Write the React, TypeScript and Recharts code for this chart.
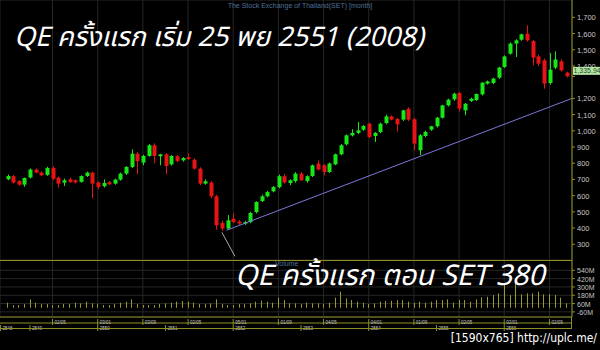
import React from 'react';
import { ComposedChart, Bar, XAxis, YAxis, CartesianGrid, ReferenceLine } from 'recharts';

// SET monthly, Sep 2005 .. Dec 2013
const opens = [
  701, 720, 690, 668, 712, 761, 742, 728, 771, 711,
  680, 701, 695, 685, 721, 742, 681, 658, 683, 674,
  699, 736, 777, 859, 804, 845, 911, 843, 855, 793,
  843, 818, 837, 822, 767, 674, 681, 596, 431, 397,
  458, 440, 431, 437, 499, 567, 596, 627, 653, 720,
  678, 690, 736, 690, 721, 798, 787, 746, 793, 855,
  917, 972, 987, 1007, 1044, 968, 993, 1048, 1089, 1073,
  1069, 1136, 1071, 880, 968, 1007, 1028, 1081, 1157, 1194,
  1233, 1126, 1184, 1190, 1225, 1291, 1295, 1328, 1394, 1476,
  1538, 1562, 1599, 1554, 1459, 1435, 1295, 1390, 1429, 1359,
];
const highs = [
  730, 728, 695, 712, 768, 768, 750, 778, 780, 718,
  705, 710, 700, 725, 748, 748, 688, 700, 690, 705,
  742, 782, 885, 870, 852, 918, 922, 858, 862, 850,
  852, 838, 860, 830, 775, 700, 690, 605, 445, 480,
  490, 450, 445, 500, 565, 605, 630, 660, 730, 735,
  700, 745, 745, 725, 792, 818, 795, 805, 860, 918,
  978, 1010, 1054, 1035, 1050, 992, 1050, 1100, 1095, 1080,
  1130, 1145, 1080, 980, 1000, 1030, 1085, 1160, 1198, 1235,
  1240, 1172, 1205, 1230, 1300, 1310, 1328, 1395, 1465, 1545,
  1565, 1600, 1651, 1560, 1470, 1445, 1480, 1490, 1440, 1365,
];
const lows = [
  695, 675, 660, 655, 705, 738, 720, 722, 695, 650,
  660, 680, 675, 680, 715, 584, 640, 650, 665, 668,
  692, 728, 770, 732, 787, 840, 800, 787, 732, 785,
  805, 810, 820, 760, 665, 668, 585, 390, 382, 390,
  430, 420, 420, 430, 490, 560, 590, 620, 645, 675,
  665, 680, 690, 680, 715, 755, 726, 740, 788, 850,
  910, 965, 980, 1000, 955, 931, 985, 1040, 1065, 995,
  1060, 1060, 880, 850, 960, 1000, 1020, 1075, 1150, 1185,
  1120, 1096, 1178, 1185, 1218, 1285, 1288, 1320, 1388, 1470,
  1455, 1555, 1550, 1405, 1400, 1260, 1285, 1380, 1365, 1330,
];
const closes = [
  721, 681, 668, 709, 761, 742, 726, 771, 705, 674,
  695, 683, 682, 721, 742, 674, 654, 678, 670, 699,
  736, 777, 859, 812, 845, 911, 845, 855, 783, 845,
  814, 832, 826, 767, 674, 689, 596, 417, 397, 448,
  437, 428, 437, 493, 561, 596, 623, 653, 720, 681,
  695, 736, 695, 720, 787, 761, 746, 798, 855, 911,
  972, 987, 1003, 1030, 962, 987, 1044, 1089, 1069, 1040,
  1126, 1069, 921, 972, 993, 1028, 1081, 1157, 1192, 1229,
  1137, 1167, 1198, 1227, 1297, 1305, 1322, 1390, 1459, 1538,
  1558, 1595, 1558, 1451, 1414, 1291, 1377, 1440, 1373, 1335.94,
];
// volume, millions
const volumes = [
  72, 39, 39, 53, 121, 72, 53, 53, 39, 39,
  53, 53, 72, 63, 87, 63, 53, 39, 39, 53,
  72, 87, 121, 53, 39, 39, 39, 53, 63, 72,
  87, 97, 87, 72, 53, 53, 63, 121, 53, 39,
  39, 53, 53, 63, 87, 101, 87, 72, 145, 111,
  63, 63, 53, 72, 63, 63, 53, 72, 145, 231,
  135, 111, 87, 72, 53, 63, 87, 97, 101, 111,
  111, 87, 72, 87, 72, 87, 111, 111, 121, 72,
  111, 111, 87, 121, 150, 159, 183, 207, 352, 183,
  376, 193, 207, 207, 231, 193, 193, 183, 145, 63,
];

const dateLabels = ['02/05', '03/01', '03/09', '02/05', '05/01', '01/09', '04/05', '04/01', '01/09', '02/05', '02/01', '02/09'];
const yearLabels = ['2548', '2549', '2550', '2551', '2552', '2553', '2554', '2555', '2556'];
const priceTicks = [300, 400, 500, 600, 700, 800, 900, 1000, 1100, 1200, 1400, 1500, 1600, 1700];
const gridTicks = [300, 400, 500, 600, 700, 800, 900, 1000, 1100, 1200, 1300, 1400, 1500, 1600, 1700];
const volumeTicks = [-60, 60, 180, 300, 420, 540];
const lastPrice = 1335.94;

const data = opens.map((o, i) => ({
  i,
  open: o,
  high: highs[i],
  low: lows[i],
  close: closes[i],
  range: [lows[i], highs[i]],
  volume: volumes[i],
}));

// tick positions (month index): every 8 months, years at January
const dateTicks = dateLabels.map((_, k) => 8 + k * 8);
const yearTicks = yearLabels.map((_, k) => (k === 0 ? -1.2 : 4 + (k - 1) * 12));

const X_DOMAIN: [number, number] = [-1.3, 100];
const OLIVE = '#8f8f26';
const GRID = '#262626';
const LABEL = '#c4c4c4';
const FONT = '"Liberation Sans", Arial, sans-serif';
const THAI = '"Noto Sans Thai", "Loma", "Garuda", "Noto Sans", "DejaVu Sans", sans-serif';

const fmt = (v: number) =>
  v.toLocaleString('en-US', { minimumFractionDigits: v % 1 ? 2 : 0, maximumFractionDigits: 2 });

function Candle(props: any) {
  const { x, y, width, height, payload } = props;
  const { open, close, high, low } = payload;
  const top = Math.min(y, y + height);
  const bottom = Math.max(y, y + height);
  const span = high - low || 1;
  const toPx = (v: number) => bottom - ((v - low) / span) * (bottom - top);
  const color = close >= open ? '#19e619' : '#e61414';
  const cx = Math.round(x + width / 2) + 0.5;
  const bTop = toPx(Math.max(open, close));
  const bBot = toPx(Math.min(open, close));
  return (
    <g>
      <line x1={cx} x2={cx} y1={top} y2={bottom} stroke={color} strokeWidth={1} />
      <rect x={cx - 2} y={bTop} width={4} height={Math.max(1.5, bBot - bTop)} fill={color} />
    </g>
  );
}

function VolBar(props: any) {
  const { x, y, width, height } = props;
  const top = Math.min(y, y + height);
  const h = Math.abs(height);
  return <rect x={Math.round(x + width / 2)} y={top} width={1} height={h} fill="#9a9a2e" />;
}

function PriceTick({ x, y, payload }: any) {
  const v = payload.value;
  if (v === lastPrice) {
    return (
      <g>
        <rect x={x - 4} y={y - 9.5} width={29} height={8} fill="#b4e6a6" />
        <text x={x - 3.5} y={y - 3} fill="#2a4a2a" fontSize={7} fontFamily={FONT}>
          {fmt(v)}
        </text>
      </g>
    );
  }
  return (
    <text x={x} y={y + 3} fill={LABEL} fontSize={7.5} fontFamily={FONT}>
      {fmt(v)}
    </text>
  );
}

function VolTick({ x, y, payload }: any) {
  return (
    <text x={x} y={y + 3} fill={LABEL} fontSize={7} fontFamily={FONT}>
      {payload.value}M
    </text>
  );
}

function RowTick(labels: string[], ticks: number[]) {
  return ({ x, y, payload }: any) => {
    const k = ticks.indexOf(payload.value);
    return (
      <g>
        <line x1={x} x2={x} y1={y} y2={y + 6} stroke={OLIVE} strokeWidth={1} />
        <text x={x + 2} y={y + 4.8} fill={LABEL} fontSize={4.5} fontFamily={FONT}>
          {labels[k]}
        </text>
      </g>
    );
  };
}

export default function App() {
  return (
    <div style={{ position: 'absolute', left: 0, top: 0, width: 600, height: 350, background: '#000', overflow: 'hidden' }}>
      <div style={{ position: 'absolute', left: 0, top: 0 }}>
        <ComposedChart width={600} height={260} data={data} margin={{ top: 0, right: 0, bottom: 0, left: 0 }}>
          <XAxis dataKey="i" type="number" domain={X_DOMAIN} ticks={dateTicks} hide />
          <YAxis yAxisId="grid" type="number" domain={[203, 1807]} ticks={gridTicks} hide />
          <YAxis
            yAxisId="p"
            orientation="right"
            type="number"
            domain={[203, 1807]}
            ticks={[...priceTicks, lastPrice]}
            width={28}
            tick={<PriceTick />}
            tickSize={3}
            tickLine={{ stroke: OLIVE }}
            axisLine={{ stroke: OLIVE }}
            interval={0}
          />
          <CartesianGrid yAxisId="grid" stroke={GRID} strokeWidth={1} />
          <ReferenceLine
            yAxisId="p"
            segment={[{ x: 38.8, y: 386 }, { x: 100, y: 1200 }]}
            stroke="#7a78d6"
            strokeWidth={1}
            ifOverflow="visible"
          />
          <ReferenceLine
            yAxisId="p"
            segment={[{ x: 38.0, y: 374 }, { x: 40.3, y: 226 }]}
            stroke="#a8a8a8"
            strokeWidth={1}
            ifOverflow="visible"
          />
          <Bar yAxisId="p" dataKey="range" barSize={4} shape={(p: any) => <Candle {...p} />} isAnimationActive={false} />
        </ComposedChart>
      </div>
      <div style={{ position: 'absolute', left: 0, top: 260 }}>
        <ComposedChart width={600} height={73} data={data} margin={{ top: 0, right: 0, bottom: 4, left: 0 }}>
          <XAxis
            xAxisId="d"
            dataKey="i"
            type="number"
            domain={X_DOMAIN}
            ticks={dateTicks}
            interval={0}
            height={6}
            tickSize={0}
            tickLine={false}
            axisLine={{ stroke: OLIVE }}
            tick={RowTick(dateLabels, dateTicks)}
          />
          <XAxis
            xAxisId="y"
            dataKey="i"
            type="number"
            domain={X_DOMAIN}
            ticks={yearTicks}
            interval={0}
            height={6}
            tickSize={0}
            tickLine={false}
            axisLine={{ stroke: OLIVE }}
            tick={RowTick(yearLabels, yearTicks)}
          />
          <YAxis
            orientation="right"
            type="number"
            domain={[-134, 689]}
            ticks={volumeTicks}
            interval={0}
            width={28}
            tick={<VolTick />}
            tickSize={3}
            tickLine={{ stroke: OLIVE }}
            axisLine={{ stroke: OLIVE }}
          />
          <CartesianGrid xAxisId="d" stroke={GRID} strokeWidth={1} />
          <Bar xAxisId="d" dataKey="volume" barSize={1} shape={(p: any) => <VolBar {...p} />} isAnimationActive={false} />
        </ComposedChart>
      </div>
      <svg width={600} height={350} style={{ position: 'absolute', left: 0, top: 0, pointerEvents: 'none' }}>
        <line x1={0} x2={572} y1={260.5} y2={260.5} stroke={OLIVE} strokeWidth={1} />
        <line x1={0} x2={572} y1={328.5} y2={328.5} stroke={OLIVE} strokeWidth={1} />
        <line x1={571.5} x2={571.5} y1={317} y2={329} stroke={OLIVE} strokeWidth={1} />
        <text x={300} y={8} textAnchor="middle" fontSize={7} fill="#4d7099" fontFamily={FONT}>
          The Stock Exchange of Thailand(SET) [month]
        </text>
        <text x={275} y={266} fontSize={7} fill="#4d7099" fontFamily={FONT}>
          Volume
        </text>
        <text x={14} y={46} fontSize={27} fill="#fff" fontStyle="italic" fontFamily={THAI}>
          QE ครั้งแรก เริ่ม 25 พย 2551 (2008)
        </text>
        <text x={235} y={285} fontSize={28.5} fill="#fff" fontStyle="italic" fontFamily={THAI}>
          QE ครั้งแรก ตอน SET 380
        </text>
        <text x={597} y={342} textAnchor="end" fontSize={12} fill="#fff" fontFamily='"Liberation Sans Narrow", "DejaVu Sans Condensed", sans-serif'>
          [1590x765] http://uplc.me/
        </text>
      </svg>
    </div>
  );
}
